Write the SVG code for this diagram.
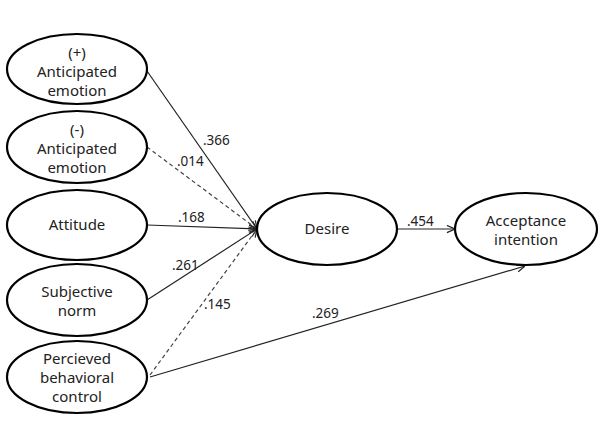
<svg xmlns="http://www.w3.org/2000/svg" width="600" height="448" viewBox="0 0 600 448">
<style>
.n ellipse{fill:#fff;stroke:#000;stroke-width:2.2}
.n text{font-family:"Noto Sans","DejaVu Sans",sans-serif;font-size:15px;fill:#222;text-anchor:middle}
.c line{stroke:#222;stroke-width:1.2;fill:none}
.c .d{stroke-dasharray:4 3;stroke:#444}
.l text{font-family:"Noto Sans","DejaVu Sans",sans-serif;font-size:13.5px;fill:#222}
</style>
<defs>
<marker id="ah" viewBox="0 0 10 10" refX="10" refY="5" markerWidth="9" markerHeight="9" markerUnits="userSpaceOnUse" orient="auto">
<polyline points="1,1 10,5 1,9" fill="none" stroke="#222" stroke-width="1.3"/>
</marker>
</defs>
<g class="c">
<line x1="147" y1="71" x2="257" y2="229" marker-end="url(#ah)"/>
<line class="d" x1="147" y1="147" x2="257" y2="229" marker-end="url(#ah)"/>
<line x1="147" y1="225" x2="257" y2="229" marker-end="url(#ah)"/>
<line x1="147" y1="300" x2="257" y2="229" marker-end="url(#ah)"/>
<line class="d" x1="150" y1="375" x2="257" y2="229" marker-end="url(#ah)"/>
<line x1="150" y1="377" x2="525" y2="266" marker-end="url(#ah)"/>
<line x1="397" y1="229" x2="455" y2="229" marker-end="url(#ah)"/>
</g>
<g class="l">
<text x="203" y="145">.366</text>
<text x="177" y="166">.014</text>
<text x="178" y="222">.168</text>
<text x="172" y="270">.261</text>
<text x="204" y="309">.145</text>
<text x="312" y="318">.269</text>
<text x="407" y="226">.454</text>
</g>
<g class="n" id="pos-emotion"><ellipse cx="77" cy="69" rx="70" ry="35"/><text x="77" y="58">(+)</text><text x="77" y="77">Anticipated</text><text x="77" y="96">emotion</text></g>
<g class="n" id="neg-emotion"><ellipse cx="77" cy="147" rx="70" ry="36"/><text x="77" y="135">(-)</text><text x="77" y="154">Anticipated</text><text x="77" y="173">emotion</text></g>
<g class="n" id="attitude"><ellipse cx="77" cy="225" rx="70" ry="35"/><text x="77" y="230">Attitude</text></g>
<g class="n" id="subjective-norm"><ellipse cx="77" cy="300" rx="70" ry="36"/><text x="77" y="297">Subjective</text><text x="77" y="316">norm</text></g>
<g class="n" id="pbc"><ellipse cx="77" cy="377" rx="70" ry="36"/><text x="77" y="364">Percieved</text><text x="77" y="383">behavioral</text><text x="77" y="402">control</text></g>
<g class="n" id="desire"><ellipse cx="327" cy="229" rx="70" ry="36"/><text x="327" y="234">Desire</text></g>
<g class="n" id="acceptance"><ellipse cx="526" cy="229" rx="71" ry="36"/><text x="526" y="226">Acceptance</text><text x="526" y="245">intention</text></g>
</svg>
